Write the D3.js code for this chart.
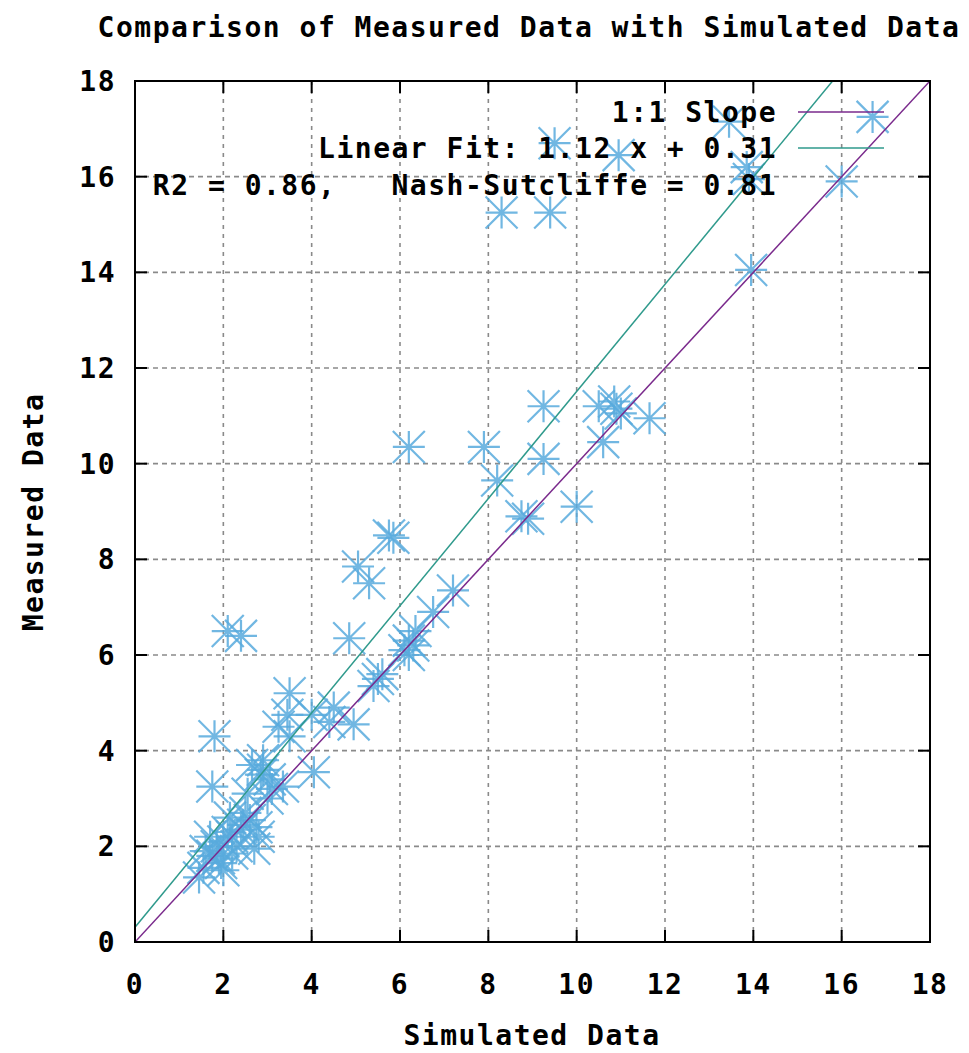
<!DOCTYPE html>
<html>
<head>
<meta charset="utf-8">
<script src="https://cdn.jsdelivr.net/npm/d3@7"></script>
<style>
  body { margin: 0; background: #fff; }
  text { font-family: "DejaVu Sans Mono", monospace; font-weight: bold; fill: #000; }
</style>
</head>
<body>
<div id="main"></div>
<script>
// simulated (x) and measured (y) values
var simulated = [9.5, 10.95, 13.45, 16.7, 13.85, 13.9, 16.0, 9.4, 8.3, 13.95,
  9.25, 9.25, 8.2, 8.75, 8.9, 10.0, 10.5, 10.85, 11.0, 10.9, 11.65, 10.6, 6.2, 7.9,
  5.75, 5.85, 5.05, 5.3, 7.2, 6.75,
  2.1, 2.4, 4.85, 6.2, 6.1, 6.35, 6.2, 6.3, 5.5, 5.6, 5.4, 3.5, 3.45, 4.0, 4.5, 4.95,
  4.4, 3.5, 1.8, 3.25, 2.9, 2.85, 3.05, 4.05, 3.35, 1.75, 2.15, 2.6, 2.75, 2.7, 1.75,
  1.55, 1.45, 1.95, 2.1, 2.4, 1.85, 2.0, 2.3, 2.5, 1.6, 2.2, 3.0, 2.9, 2.65,
  2.2, 2.45, 1.7, 2.0, 2.8, 3.1, 2.55, 1.9];
var measured = [16.7, 16.45, 17.15, 17.25, 16.2, 15.95, 15.9, 15.25, 15.25, 14.05,
  11.2, 10.1, 9.65, 8.9, 8.85, 9.1, 11.2, 11.3, 11.05, 11.15, 10.95, 10.45, 10.35, 10.35,
  8.5, 8.45, 7.85, 7.5, 7.35, 6.9,
  6.5, 6.4, 6.35, 6.3, 6.1, 6.5, 6.0, 6.2, 5.5, 5.6, 5.35, 5.2, 4.75, 4.75, 4.9, 4.55,
  4.6, 4.3, 4.3, 4.5, 3.6, 3.5, 3.4, 3.55, 3.25, 3.25, 2.6, 2.55, 2.4, 1.95, 1.8,
  1.55, 1.35, 1.65, 2.3, 2.35, 2.0, 2.1, 2.0, 2.7, 1.9, 1.85, 3.0, 3.8, 3.7,
  2.2, 2.45, 2.2, 1.5, 2.2, 3.2, 3.1, 1.75];

var ticks = [0, 2, 4, 6, 8, 10, 12, 14, 16, 18];
var fitSlope = 1.12, fitIntercept = 0.31;
var r2 = 0.86, nashSutcliffe = 0.81;

var width = 969, height = 1053;
var plotLeft = 135, plotRight = 930, plotTop = 81, plotBottom = 942;

var svg = d3.select("#main").append("svg")
    .attr("width", width)
    .attr("height", height);

var x = d3.scaleLinear().domain([0, 18]).range([plotLeft, plotRight]);
var y = d3.scaleLinear().domain([0, 18]).range([plotBottom, plotTop]);

svg.append("defs").append("clipPath").attr("id", "plotclip")
  .append("rect")
    .attr("x", plotLeft).attr("y", plotTop)
    .attr("width", plotRight - plotLeft).attr("height", plotBottom - plotTop);

// dashed grid
svg.append("g").selectAll("line").data(ticks.slice(1, -1)).enter().append("line")
    .attr("x1", function(d){ return x(d); }).attr("x2", function(d){ return x(d); })
    .attr("y1", plotTop).attr("y2", plotBottom)
    .attr("stroke", "#8a8a8a").attr("stroke-width", 1.6).attr("stroke-dasharray", "4,5");
svg.append("g").selectAll("line").data(ticks.slice(1)).enter().append("line")
    .attr("y1", function(d){ return y(d); }).attr("y2", function(d){ return y(d); })
    .attr("x1", plotLeft).attr("x2", plotRight)
    .attr("stroke", "#8a8a8a").attr("stroke-width", 1.6).attr("stroke-dasharray", "5,4");

// asterisk points (+ and x)
var r = 16;
var starPath = "M" + (-r) + ",0H" + r + "M0," + (-r) + "V" + r +
  "M" + (-r) + "," + (-r) + "L" + r + "," + r + "M" + (-r) + "," + r + "L" + r + "," + (-r);

svg.append("g").attr("clip-path", "url(#plotclip)")
  .selectAll("path").data(simulated).enter().append("path")
    .attr("d", starPath)
    .attr("transform", function(d, i){ return "translate(" + x(d) + "," + y(measured[i]) + ")"; })
    .attr("fill", "none")
    .attr("stroke", "#58aadd")
    .attr("stroke-opacity", 0.85)
    .attr("stroke-width", 2.2);

// 1:1 and fit lines
var lines = svg.append("g").attr("clip-path", "url(#plotclip)");
lines.append("line")
    .attr("x1", x(0)).attr("y1", y(0)).attr("x2", x(18)).attr("y2", y(18))
    .attr("stroke", "#7a2a8c").attr("stroke-width", 1.5);
lines.append("line")
    .attr("x1", x(0)).attr("y1", y(fitIntercept))
    .attr("x2", x(18)).attr("y2", y(fitSlope * 18 + fitIntercept))
    .attr("stroke", "#2f9a8c").attr("stroke-width", 1.5);

// border
svg.append("rect")
    .attr("x", plotLeft).attr("y", plotTop)
    .attr("width", plotRight - plotLeft).attr("height", plotBottom - plotTop)
    .attr("fill", "none").attr("stroke", "#000").attr("stroke-width", 2);

// inward ticks on all four sides
var tl = 12;
var tg = svg.append("g").attr("stroke", "#000").attr("stroke-width", 2);
ticks.forEach(function(t){
  tg.append("line").attr("x1", x(t)).attr("x2", x(t)).attr("y1", plotBottom).attr("y2", plotBottom - tl);
  tg.append("line").attr("x1", x(t)).attr("x2", x(t)).attr("y1", plotTop).attr("y2", plotTop + tl);
  tg.append("line").attr("y1", y(t)).attr("y2", y(t)).attr("x1", plotLeft).attr("x2", plotLeft + tl);
  tg.append("line").attr("y1", y(t)).attr("y2", y(t)).attr("x1", plotRight).attr("x2", plotRight - tl);
});

var fs = 28, ls = 1.5;

svg.append("g").selectAll("text").data(ticks).enter().append("text")
    .attr("x", function(d){ return x(d); })
    .attr("y", 994)
    .attr("text-anchor", "middle")
    .style("font-size", fs + "px").style("letter-spacing", ls + "px")
    .text(function(d){ return d; });

svg.append("g").selectAll("text").data(ticks).enter().append("text")
    .attr("x", 116)
    .attr("y", function(d){ return y(d) + 10; })
    .attr("text-anchor", "end")
    .style("font-size", fs + "px").style("letter-spacing", ls + "px")
    .text(function(d){ return d; });

svg.append("text")
    .attr("x", 529).attr("y", 37)
    .attr("text-anchor", "middle")
    .style("font-size", fs + "px").style("letter-spacing", ls + "px")
    .text("Comparison of Measured Data with Simulated Data");

svg.append("text")
    .attr("x", 532).attr("y", 1045)
    .attr("text-anchor", "middle")
    .style("font-size", fs + "px").style("letter-spacing", ls + "px")
    .text("Simulated Data");

svg.append("text")
    .attr("transform", "translate(43,512) rotate(-90)")
    .attr("text-anchor", "middle")
    .style("font-size", fs + "px").style("letter-spacing", ls + "px")
    .text("Measured Data");

// key
var keyX = 777;
var key = [
  {label: "1:1 Slope", color: "#7a2a8c", yy: 112},
  {label: "Linear Fit: " + fitSlope + " x + " + fitIntercept, color: "#2f9a8c", yy: 148},
  {label: "R2 = " + r2 + ",   Nash-Sutcliffe = " + nashSutcliffe, color: null, yy: 185}
];
key.forEach(function(k){
  svg.append("text")
      .attr("x", keyX).attr("y", k.yy + 10)
      .attr("text-anchor", "end")
      .style("font-size", fs + "px").style("letter-spacing", ls + "px")
      .style("white-space", "pre")
      .text(k.label);
  if (k.color) {
    svg.append("line")
        .attr("x1", 798).attr("x2", 884).attr("y1", k.yy).attr("y2", k.yy)
        .attr("stroke", k.color).attr("stroke-width", 1.5);
  }
});
</script>
</body>
</html>
